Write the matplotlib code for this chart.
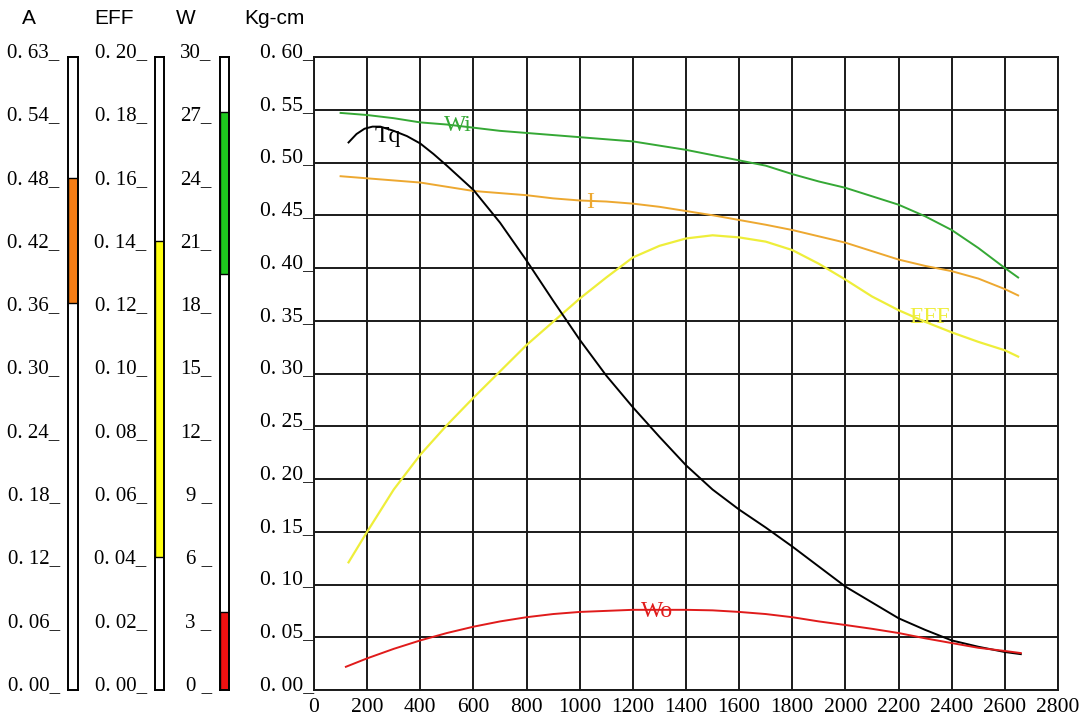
import matplotlib
matplotlib.use("Agg")
import matplotlib.pyplot as plt
import numpy as np

# ---- data ----
wi_rpm = [100, 200, 300, 400, 500, 600, 700, 800, 900, 1000, 1100, 1200, 1300, 1400,
          1500, 1600, 1700, 1800, 1900, 2000, 2100, 2200, 2300, 2400, 2500, 2600, 2650]
wi_val = [0.547, 0.545, 0.542, 0.538, 0.536, 0.533, 0.530, 0.528, 0.526, 0.524, 0.522,
          0.520, 0.516, 0.512, 0.507, 0.502, 0.497, 0.489, 0.482, 0.476, 0.468, 0.460,
          0.449, 0.436, 0.419, 0.400, 0.391]

i_rpm = [100, 200, 300, 400, 500, 600, 700, 800, 900, 1000, 1100, 1200, 1300, 1400,
         1500, 1600, 1700, 1800, 1900, 2000, 2100, 2200, 2300, 2400, 2500, 2600, 2650]
i_val = [0.487, 0.485, 0.483, 0.481, 0.477, 0.473, 0.471, 0.469, 0.466, 0.464, 0.463,
         0.461, 0.458, 0.454, 0.450, 0.4455, 0.441, 0.436, 0.430, 0.424, 0.416, 0.408,
         0.402, 0.397, 0.390, 0.380, 0.374]

eff_rpm = [130, 200, 300, 400, 500, 600, 700, 800, 900, 1000, 1100, 1200, 1300, 1400,
           1500, 1600, 1700, 1800, 1900, 2000, 2100, 2200, 2300, 2400, 2500, 2600, 2650]
eff_val = [0.121, 0.150, 0.190, 0.223, 0.251, 0.277, 0.302, 0.327, 0.349, 0.371, 0.391,
           0.410, 0.421, 0.428, 0.431, 0.429, 0.425, 0.417, 0.404, 0.389, 0.373, 0.360,
           0.349, 0.339, 0.330, 0.322, 0.316]

tq_rpm = [130, 160, 190, 220, 250, 300, 350, 400, 450, 500, 600, 700, 800, 900, 1000,
          1100, 1200, 1300, 1400, 1500, 1600, 1700, 1800, 1900, 2000, 2100, 2200, 2300,
          2400, 2500, 2600, 2660]
tq_val = [0.519, 0.527, 0.532, 0.534, 0.534, 0.530, 0.525, 0.518, 0.508, 0.497, 0.474,
          0.443, 0.407, 0.369, 0.332, 0.298, 0.268, 0.240, 0.213, 0.190, 0.171, 0.154,
          0.136, 0.117, 0.098, 0.083, 0.068, 0.057, 0.047, 0.041, 0.036, 0.034]

wo_rpm = [120, 200, 300, 400, 500, 600, 700, 800, 900, 1000, 1100, 1200, 1300, 1400,
          1500, 1600, 1700, 1800, 1900, 2000, 2100, 2200, 2300, 2400, 2500, 2600, 2660]
wo_val = [0.022, 0.030, 0.039, 0.047, 0.054, 0.060, 0.065, 0.069, 0.072, 0.074, 0.075,
          0.076, 0.076, 0.076, 0.0755, 0.074, 0.072, 0.069, 0.065, 0.0616, 0.058, 0.054,
          0.049, 0.0445, 0.040, 0.037, 0.035]

# side scales: labels, full scale, filled range
a_labels = ["0. 00", "0. 06", "0. 12", "0. 18", "0. 24", "0. 30", "0. 36", "0. 42", "0. 48", "0. 54", "0. 63"]
a_max = 0.63
a_range = (0.385, 0.51)

eff_labels = ["0. 00", "0. 02", "0. 04", "0. 06", "0. 08", "0. 10", "0. 12", "0. 14", "0. 16", "0. 18", "0. 20"]
eff_max = 0.20
eff_range = (0.042, 0.142)

w_labels = ["0 ", "3 ", "6 ", "9 ", "12", "15", "18", "21", "24", "27", "30"]
w_max = 30
wi_range = (19.7, 27.4)
wo_range = (0.0, 3.7)

kg_ticks = [0.00, 0.05, 0.10, 0.15, 0.20, 0.25, 0.30, 0.35, 0.40, 0.45, 0.50, 0.55, 0.60]
rpm_ticks = list(range(0, 2801, 200))

SERIF = "Liberation Serif"
SANS = "Liberation Sans"

W, H = 1090, 720
fig = plt.figure(figsize=(W / 100, H / 100), dpi=100)

y_top, y_bot = 57, 690


def px_rect(x0, x1):
    return [x0 / W, 1 - y_bot / H, (x1 - x0) / W, (y_bot - y_top) / H]


def side_scale(x0, x1, vmax, labels, fills):
    ax = fig.add_axes(px_rect(x0, x1))
    ax.set_xlim(0, 1)
    ax.set_ylim(0, vmax)
    for lo, hi, col in fills:
        ax.bar([0.5], [hi - lo], bottom=lo, width=1.0, color=col, edgecolor="black", linewidth=1.0)
    ax.set_xticks([])
    ax.set_yticks(np.linspace(0, vmax, len(labels)))
    ax.set_yticklabels([s + "_" for s in labels], fontfamily=SERIF, fontsize=15)
    for lab in ax.get_yticklabels():
        lab.set_verticalalignment("baseline")
    ax.tick_params(axis="y", length=0, pad=6)
    for sp in ax.spines.values():
        sp.set_linewidth(1.4)
        sp.set_color("black")
    return ax


side_scale(68, 78, a_max, a_labels, [(a_range[0], a_range[1], "#f57d15")])
side_scale(155, 164, eff_max, eff_labels, [(eff_range[0], eff_range[1], "#ffff10")])
side_scale(220, 229, w_max, w_labels, [(wi_range[0], wi_range[1], "#1ec81e"),
                                        (wo_range[0], wo_range[1], "#ee1111")])

# header texts
for txt, xc in [("A", 29), ("EFF", 114), ("W", 186), ("Kg-cm", 274)]:
    fig.text(xc / W, 1 - 18 / H, txt, ha="center", va="center", fontfamily=SANS, fontsize=15)

# ---- main chart ----
ax = fig.add_axes([314 / W, 1 - y_bot / H, (1058 - 314) / W, (y_bot - y_top) / H])
ax.set_xlim(0, 2800)
ax.set_ylim(0, 0.60)
ax.set_xticks(rpm_ticks)
ax.set_xticklabels([str(t) for t in rpm_ticks], fontfamily=SERIF, fontsize=15.5)
ax.set_yticks(kg_ticks)
ax.set_yticklabels([f"{v:.2f}".replace(".", ". ") + "_" for v in kg_ticks], fontfamily=SERIF, fontsize=15.5)
for lab in ax.get_yticklabels():
    lab.set_verticalalignment("baseline")
ax.tick_params(axis="y", length=0, pad=0)
ax.tick_params(axis="x", length=0, pad=6)
ax.grid(True, color="#1a1a1a", linewidth=1.4)
ax.set_axisbelow(True)
for sp in ax.spines.values():
    sp.set_linewidth(1.4)
    sp.set_color("#1a1a1a")

ax.plot(wi_rpm, wi_val, color="#35a835", linewidth=1.4)
ax.plot(i_rpm, i_val, color="#eda830", linewidth=1.4)
ax.plot(eff_rpm, eff_val, color="#eeee3a", linewidth=1.6)
ax.plot(tq_rpm, tq_val, color="black", linewidth=1.4)
ax.plot(wo_rpm, wo_val, color="#e01b1b", linewidth=1.4)

ax.text(278, 0.525, "Tq", color="black", fontfamily=SERIF, fontsize=17, ha="center", va="center")
ax.text(540, 0.535, "Wi", color="#35a835", fontfamily=SERIF, fontsize=17, ha="center", va="center")
ax.text(1039, 0.462, "I", color="#eda830", fontfamily=SERIF, fontsize=17, ha="center", va="center")
ax.text(2318, 0.353, "EFF", color="#eeee3a", fontfamily=SERIF, fontsize=17, ha="center", va="center")
ax.text(1291, 0.074, "Wo", color="#e01b1b", fontfamily=SERIF, fontsize=17, ha="center", va="center")

fig.savefig("out.png", dpi=100)
